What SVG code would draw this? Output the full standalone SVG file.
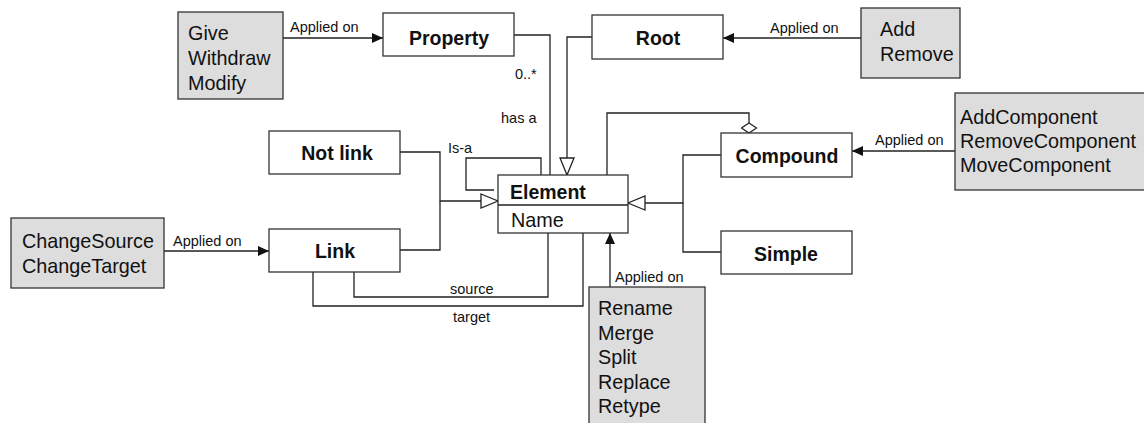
<svg xmlns="http://www.w3.org/2000/svg" width="1144" height="423" viewBox="0 0 1144 423">
  <style>
    .box { fill: #ffffff; stroke: #333333; stroke-width: 1.3; }
    .op { fill: #dddddd; stroke: #333333; stroke-width: 1.3; }
    .title { font-family: "Liberation Sans", Arial, sans-serif; font-size: 19.5px; font-weight: bold; fill: #111111; text-anchor: middle; }
    .txt { font-family: "Liberation Sans", Arial, sans-serif; font-size: 19.8px; fill: #111111; }
    .lbl { font-family: "Liberation Sans", Arial, sans-serif; font-size: 14.5px; fill: #111111; }
    .wire { fill: none; stroke: #222222; stroke-width: 1.3; }
  </style>
  <defs>
    <marker id="arrow" viewBox="0 0 11 10" refX="11" refY="5" markerWidth="11" markerHeight="10" markerUnits="userSpaceOnUse" orient="auto">
      <path d="M0,0 L11,5 L0,10 z" fill="#111111"/>
    </marker>
    <marker id="inherit" viewBox="0 0 19 16" refX="18" refY="8" markerWidth="19" markerHeight="16" markerUnits="userSpaceOnUse" orient="auto">
      <path d="M1,1 L18,8 L1,15 z" fill="#ffffff" stroke="#222222" stroke-width="1.3"/>
    </marker>
    <marker id="diamond" viewBox="0 0 12 17" refX="11" refY="8.5" markerWidth="12" markerHeight="17" markerUnits="userSpaceOnUse" orient="auto">
      <path d="M1,8.5 L6,1 L11,8.5 L6,16 z" fill="#ffffff" stroke="#222222" stroke-width="1.2"/>
    </marker>
  </defs>

  <!-- connectors -->
  <g id="connectors">
    <path class="wire" d="M283,38 L383,38" marker-end="url(#arrow)"/>
    <path class="wire" d="M861,38 L723,38" marker-end="url(#arrow)"/>
    <path class="wire" d="M955,151 L852,151" marker-end="url(#arrow)"/>
    <path class="wire" d="M164,251 L269,251" marker-end="url(#arrow)"/>
    <path class="wire" d="M610,287 L610,233" marker-end="url(#arrow)"/>
    <path class="wire" d="M514,35 L550,35 L550,175"/>
    <path class="wire" d="M592,37 L567,37 L567,175" marker-end="url(#inherit)"/>
    <path class="wire" d="M541,175 L541,158 L466,158 L466,190 L494,190"/>
    <path class="wire" d="M607,175 L607,113 L749,113 L749,133" marker-end="url(#diamond)"/>
    <path class="wire" d="M400,152 L440,152 L440,201 L498,201" marker-end="url(#inherit)"/>
    <path class="wire" d="M400,250 L440,250 L440,201"/>
    <path class="wire" d="M721,155 L683,155 L683,203 L628,203" marker-end="url(#inherit)"/>
    <path class="wire" d="M721,252 L683,252 L683,203"/>
    <path class="wire" d="M354,272 L354,297 L548,297 L548,233"/>
    <path class="wire" d="M313,272 L313,306 L583,306 L583,233"/>
    <text class="lbl" x="290" y="32">Applied on</text>
    <text class="lbl" x="770" y="33">Applied on</text>
    <text class="lbl" x="875" y="145">Applied on</text>
    <text class="lbl" x="173" y="246">Applied on</text>
    <text class="lbl" x="615" y="282">Applied on</text>
    <text class="lbl" x="515" y="79">0..*</text>
    <text class="lbl" x="501" y="123">has a</text>
    <text class="lbl" x="448" y="153">Is-a</text>
    <text class="lbl" x="450" y="294">source</text>
    <text class="lbl" x="453" y="322">target</text>
  </g>

  <g id="property-ops">
    <rect class="op" x="178" y="12" width="105" height="87"/>
    <text class="txt" x="188" y="40">Give</text>
    <text class="txt" x="188" y="65">Withdraw</text>
    <text class="txt" x="188" y="90">Modify</text>
  </g>
  <g id="property">
    <rect class="box" x="383" y="13" width="131" height="43"/>
    <text class="title" x="449" y="45">Property</text>
  </g>
  <g id="root">
    <rect class="box" x="592" y="15" width="131" height="44"/>
    <text class="title" x="658" y="45">Root</text>
  </g>
  <g id="root-ops">
    <rect class="op" x="861" y="8" width="99" height="70"/>
    <text class="txt" x="880" y="36">Add</text>
    <text class="txt" x="880" y="61">Remove</text>
  </g>
  <g id="compound-ops">
    <rect class="op" x="955" y="93" width="200" height="97"/>
    <text class="txt" x="960" y="124">AddComponent</text>
    <text class="txt" x="960" y="148">RemoveComponent</text>
    <text class="txt" x="960" y="172">MoveComponent</text>
  </g>
  <g id="compound">
    <rect class="box" x="721" y="133" width="131" height="44"/>
    <text class="title" x="787" y="163">Compound</text>
  </g>
  <g id="simple">
    <rect class="box" x="721" y="231" width="131" height="43"/>
    <text class="title" x="786" y="261">Simple</text>
  </g>
  <g id="not-link">
    <rect class="box" x="269" y="131" width="131" height="43"/>
    <text class="title" x="337" y="160">Not link</text>
  </g>
  <g id="link">
    <rect class="box" x="269" y="229" width="131" height="43"/>
    <text class="title" x="335" y="258">Link</text>
  </g>
  <g id="link-ops">
    <rect class="op" x="11" y="218" width="153" height="70"/>
    <text class="txt" x="22" y="248">ChangeSource</text>
    <text class="txt" x="22" y="273">ChangeTarget</text>
  </g>
  <g id="element">
    <rect class="box" x="498" y="175" width="130" height="58"/>
    <line class="wire" x1="498" y1="205" x2="628" y2="205"/>
    <text class="title" x="510" y="199" style="text-anchor:start">Element</text>
    <text class="txt" x="511" y="227">Name</text>
  </g>
  <g id="element-ops">
    <rect class="op" x="589" y="287" width="116" height="150"/>
    <text class="txt" x="598" y="315">Rename</text>
    <text class="txt" x="598" y="340">Merge</text>
    <text class="txt" x="598" y="364">Split</text>
    <text class="txt" x="598" y="389">Replace</text>
    <text class="txt" x="598" y="413">Retype</text>
  </g>
</svg>
